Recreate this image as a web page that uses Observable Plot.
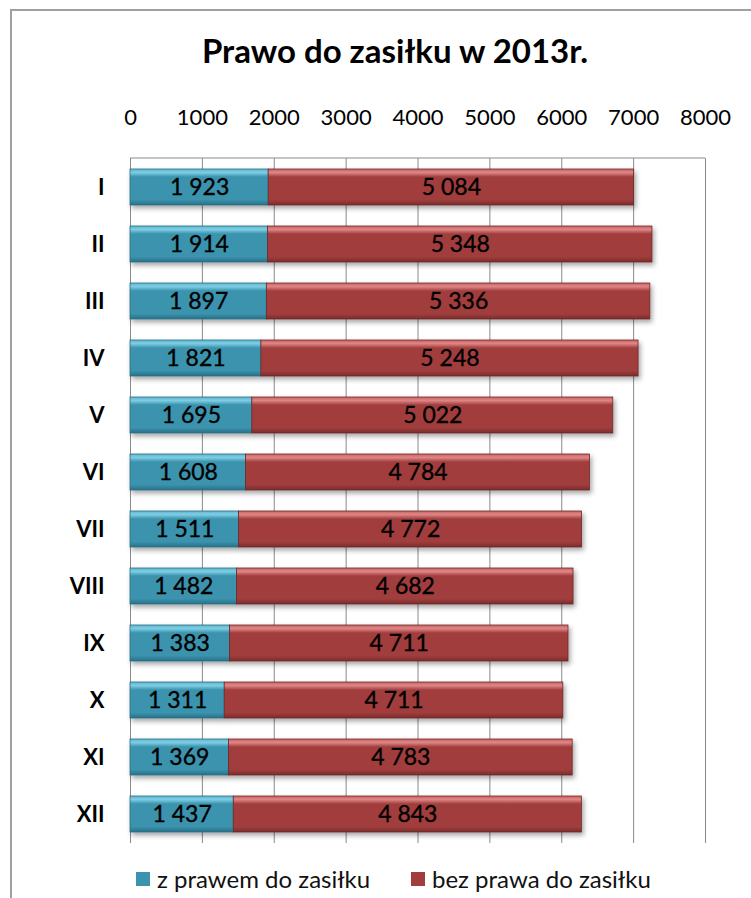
<!DOCTYPE html>
<html>
<head>
<meta charset="utf-8">
<script src="https://cdn.jsdelivr.net/npm/d3@7"></script>
<script src="https://cdn.jsdelivr.net/npm/@observablehq/plot@0.6"></script>
<style>
  html, body { margin: 0; padding: 0; background: #fff; width: 751px; height: 898px; overflow: hidden; }
  body { font-family: Lato, "Open Sans", sans-serif; position: relative; }
  #frame { position: absolute; left: 10px; top: 9px; width: 800px; height: 950px; border: 2px solid #a0a0a0; box-sizing: border-box; }
  #title { position: absolute; left: 0; width: 790px; top: 30px; text-align: center; font-weight: bold; font-size: 33px; color: #000; }
  #chart { position: absolute; left: 0; top: 95px; }
  #legend { position: absolute; top: 864px; left: 0; width: 751px; font-size: 24px; color: #111; }
  .lg { position: absolute; display: flex; align-items: center; white-space: nowrap; }
  .sw { width: 14px; height: 14px; margin-right: 7px; }
</style>
</head>
<body>
<div id="frame"></div>
<div id="title">Prawo do zasiłku w 2013r.</div>
<div id="chart"></div>
<div id="legend"></div>
<script>
const months = ["I","II","III","IV","V","VI","VII","VIII","IX","X","XI","XII"];
const seriesNames = ["z prawem do zasiłku", "bez prawa do zasiłku"];
const withRight = [1923,1914,1897,1821,1695,1608,1511,1482,1383,1311,1369,1437];
const withoutRight = [5084,5348,5336,5248,5022,4784,4772,4682,4711,4711,4783,4843];
const xTicks = [0,1000,2000,3000,4000,5000,6000,7000,8000];
const colors = ["#3b93ae", "#a13e3d"];
const gradIds = ["url(#gBlue)", "url(#gRed)"];

const data = [];
months.forEach((m, i) => {
  data.push({month: m, series: seriesNames[0], value: withRight[i], order: 0});
  data.push({month: m, series: seriesNames[1], value: withoutRight[i], order: 1});
});

const fmt = v => d3.format(",")(v).replace(/,/g, " ");

const plot = Plot.plot({
  width: 751,
  height: 760,
  marginLeft: 130,
  marginRight: 46,
  marginTop: 63,
  marginBottom: 12,
  style: {fontFamily: "Lato, 'Open Sans', sans-serif", background: "transparent"},
  x: {domain: [0, 8000], ticks: xTicks, axis: null, label: null},
  y: {domain: months, paddingInner: 0.37, paddingOuter: 0.185, axis: null, label: null},
  color: {domain: seriesNames, range: gradIds},
  marks: [
    Plot.ruleX(xTicks, {x: d => d, stroke: "#8a8a8a", strokeOpacity: 1}),
    Plot.axisX(xTicks, {anchor: "top", label: null, tickSize: 0, tickPadding: 34, fontSize: 22, tickFormat: d => String(d), fill: "#000"}),
    Plot.axisY({anchor: "left", label: null, tickSize: 0, tickPadding: 26, fontSize: 22, fontWeight: "bold", fill: "#000"}),
    Plot.barX(data, {
      x: "value", y: "month", fill: "series", z: "order",
      order: "order",
      stroke: d => d.order === 0 ? "#2b6e83" : "#6e2928", strokeWidth: 0.8
    }),
    Plot.text(data, Plot.stackX({
      x: "value", y: "month", z: "order", order: "order",
      text: d => fmt(d.value), fontSize: 23, fill: "#000"
    }))
  ]
});

const svg = d3.select(plot);
const defs = svg.insert("defs", ":first-child");
function grad(id, top, light, mid, bot) {
  const g = defs.append("linearGradient").attr("id", id).attr("x1", 0).attr("y1", 0).attr("x2", 0).attr("y2", 1);
  g.append("stop").attr("offset", "0%").attr("stop-color", top);
  g.append("stop").attr("offset", "10%").attr("stop-color", light);
  g.append("stop").attr("offset", "22%").attr("stop-color", mid);
  g.append("stop").attr("offset", "85%").attr("stop-color", mid);
  g.append("stop").attr("offset", "100%").attr("stop-color", bot);
}
grad("gBlue", "#5fb6d0", "#7ecde3", "#3a93ae", "#2a7088");
grad("gRed", "#c86464", "#e08585", "#a13e3d", "#7a2d2c");
defs.append("filter").attr("id", "shadow").attr("x", "-5%").attr("y", "-20%").attr("width", "115%").attr("height", "160%")
  .append("feDropShadow").attr("dx", 2).attr("dy", 3).attr("stdDeviation", 2.5).attr("flood-color", "#000").attr("flood-opacity", 0.35);
svg.selectAll("g[aria-label='bar']").attr("filter", "url(#shadow)");
svg.selectAll("g[aria-label='text'] text").attr("stroke", "#000").attr("stroke-width", 0.35);
svg.append("line").attr("x1", 130).attr("x2", 705).attr("y1", 63).attr("y2", 63).attr("stroke", "#8a8a8a");

document.getElementById("chart").appendChild(plot);

const legend = document.getElementById("legend");
const lgPos = [136, 411];
seriesNames.forEach((name, i) => {
  const el = document.createElement("div");
  el.className = "lg";
  el.style.left = lgPos[i] + "px";
  el.innerHTML = `<span class="sw" style="background:${colors[i]}"></span><span>${name}</span>`;
  legend.appendChild(el);
});
</script>
</body>
</html>
